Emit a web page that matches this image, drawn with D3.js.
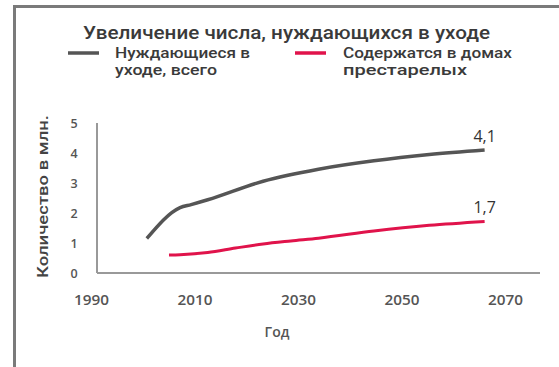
<!DOCTYPE html>
<html><head><meta charset="utf-8">
<script src="https://cdn.jsdelivr.net/npm/d3@7"></script>
<style>html,body{margin:0;padding:0;background:#fff;}svg{display:block;}</style>
</head><body>
<svg id="c" width="559" height="367"></svg>
<script>
const title = "Увеличение числа, нуждающихся в уходе";
const seriesNames = [["Нуждающиеся в", "уходе, всего"], ["Содержатся в домах", "престарелых"]];
const seriesColors = ["#555555", "#e0134b"];
const totalYears = [1999, 2005, 2007, 2010, 2020, 2030, 2040, 2050, 2060];
const totalValues = [1.15, 2.18, 2.28, 2.44, 3.06, 3.46, 3.74, 3.95, 4.1];
const homeYears = [2003, 2005, 2010, 2015, 2020, 2025, 2030, 2040, 2050, 2060];
const homeValues = [0.6, 0.61, 0.68, 0.83, 0.97, 1.07, 1.16, 1.4, 1.59, 1.72];
const endLabels = ["4,1", "1,7"];
const xTicks = [1990, 2010, 2030, 2050, 2070];
const yTicks = [0, 1, 2, 3, 4, 5];
const xTitle = "Год";
const yTitle = "Количество в млн.";

const svg = d3.select("#c");
svg.append("rect").attr("x", 14.5).attr("y", 6.5).attr("width", 600).attr("height", 400)
  .attr("fill", "#fff").attr("stroke", "#7a7a7a").attr("stroke-width", 3);

const x = d3.scaleLinear().domain([1990, 2070]).range([97, 540]);
const xLab = d3.scaleLinear().domain([1990, 2070]).range([91, 505]);
const y = d3.scaleLinear().domain([0, 5]).range([273, 123]);

const sans = "Roboto, 'Liberation Sans', sans-serif";
svg.append("text").attr("x", 83).attr("y", 39)
  .attr("font-family", sans).attr("font-weight", 500)
  .attr("font-size", 17.5).attr("fill", "#3a3a3a")
  .attr("textLength", 407).attr("lengthAdjust", "spacingAndGlyphs").text(title);

// legend
const legX = [68, 295], legTX = [115, 343];
const legW = [[135, 102], [169, 124]];
seriesNames.forEach((n, i) => {
  svg.append("line").attr("x1", legX[i]).attr("x2", legX[i] + 31).attr("y1", 53).attr("y2", 53)
    .attr("stroke", seriesColors[i]).attr("stroke-width", 3.5);
  n.forEach((t, j) => {
    svg.append("text").attr("x", legTX[i]).attr("y", 58 + j * 17)
      .attr("font-family", sans).attr("font-weight", 500)
      .attr("font-size", 14).attr("fill", "#3a3a3a")
      .attr("textLength", legW[i][j]).attr("lengthAdjust", "spacingAndGlyphs").text(t);
  });
});

// axes lines
svg.append("line").attr("x1", x(1990)).attr("x2", x(1990)).attr("y1", y(5)).attr("y2", y(0))
  .attr("stroke", "#999").attr("stroke-width", 2);
svg.append("line").attr("x1", x(1990)).attr("x2", x(2070)).attr("y1", y(0)).attr("y2", y(0))
  .attr("stroke", "#999").attr("stroke-width", 2);

const ya = svg.append("g").attr("transform", "translate(80,0)")
  .call(d3.axisLeft(y).tickValues(yTicks).tickSize(0).tickFormat(d3.format("d")));
ya.select(".domain").remove();
ya.selectAll("text").attr("font-family", "'Open Sans', sans-serif").attr("font-size", 12.5)
  .attr("font-weight", 600).attr("fill", "#555").attr("text-anchor", "middle").attr("x", -6);

const xa = svg.append("g").attr("transform", "translate(0,292)")
  .call(d3.axisBottom(xLab).tickValues(xTicks).tickSize(0).tickFormat(d3.format("d")));
xa.select(".domain").remove();
xa.selectAll("text").attr("font-family", "'Open Sans', sans-serif").attr("font-size", 13.5)
  .attr("font-weight", 600).attr("fill", "#555")
  .attr("textLength", 35).attr("lengthAdjust", "spacingAndGlyphs");

svg.append("text").attr("x", 277).attr("y", 337).attr("text-anchor", "middle")
  .attr("font-family", "'Open Sans', sans-serif").attr("font-size", 14).attr("font-weight", 600)
  .attr("fill", "#555").text(xTitle);

svg.append("text").attr("transform", "translate(48,278) rotate(-90)")
  .attr("font-family", sans).attr("font-weight", 500)
  .attr("font-size", 14.5).attr("fill", "#444")
  .attr("textLength", 163).attr("lengthAdjust", "spacingAndGlyphs").text(yTitle);

const line = d3.line().x(d => x(d[0])).y(d => y(d[1])).curve(d3.curveMonotoneX);
const series = [d3.zip(totalYears, totalValues), d3.zip(homeYears, homeValues)];
series.forEach((s, i) => {
  svg.append("path").datum(s).attr("d", line).attr("fill", "none")
    .attr("stroke", seriesColors[i]).attr("stroke-width", i === 0 ? 3.5 : 3)
    .attr("stroke-linejoin", "round");
  const last = s[s.length - 1];
  svg.append("text").attr("x", x(last[0])).attr("y", y(last[1]) - 8).attr("text-anchor", "middle")
    .attr("font-family", "'Open Sans', sans-serif").attr("font-size", 16)
    .attr("fill", "#333").text(endLabels[i]);
});
</script>
</body></html>
